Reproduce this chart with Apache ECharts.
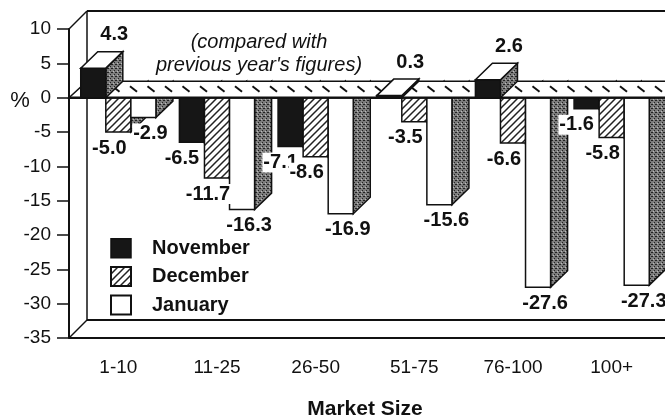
<!DOCTYPE html>
<html>
<head>
<meta charset="utf-8">
<script src="https://cdn.jsdelivr.net/npm/echarts@6/dist/echarts.min.js"></script>
<style>
  html, body { margin: 0; background: #fff; }
  #chart { width: 665px; height: 418px; }
</style>
</head>
<body>
<div id="chart"></div>
<script>
const categories = ['1-10', '11-25', '26-50', '51-75', '76-100', '100+']
const november = [4.3, -6.5, -7.1, 0.3, 2.6, -1.6]
const december = [-5.0, -11.7, -8.6, -3.5, -6.6, -5.8]
const january = [-2.9, -16.3, -16.9, -15.6, -27.6, -27.3]

const FONT = '"Liberation Sans", Arial, Helvetica, sans-serif'
const INK = '#111'
// depth of the 3d boxes and of the frame
const DX = 17
const DY = -16.5
const FDX = 18
const FDY = -18

function hatchPattern() {
  const c = document.createElement('canvas')
  c.width = 7
  c.height = 7
  const g = c.getContext('2d')
  g.fillStyle = '#fff'
  g.fillRect(0, 0, 7, 7)
  g.strokeStyle = '#222'
  g.lineWidth = 1.5
  g.beginPath()
  g.moveTo(-1, 8); g.lineTo(8, -1)
  g.moveTo(-1, 1); g.lineTo(1, -1)
  g.moveTo(6, 8); g.lineTo(8, 6)
  g.stroke()
  return { image: c, repeat: 'repeat' }
}

function stipplePattern() {
  const c = document.createElement('canvas')
  c.width = 4
  c.height = 4
  const g = c.getContext('2d')
  g.fillStyle = '#7c7c7c'
  g.fillRect(0, 0, 4, 4)
  g.fillStyle = '#222'
  g.fillRect(0, 0, 1, 1)
  g.fillRect(2, 2, 1, 1)
  g.fillRect(3, 0, 1, 1)
  g.fillStyle = '#bbb'
  g.fillRect(1, 3, 1, 1)
  return { image: c, repeat: 'repeat' }
}

const hatch = hatchPattern()
const stipple = stipplePattern()

function line(x1, y1, x2, y2, w, z2) {
  return {
    type: 'line',
    shape: { x1, y1, x2, y2 },
    style: { stroke: INK, lineWidth: w || 1.5 },
    z2: z2 || 0
  }
}

// back wall, floor and the hatched zero plane
function renderFrame(params, api) {
  const cs = params.coordSys
  const left = cs.x
  const top = cs.y
  const bottom = cs.y + cs.height
  const far = 700
  const y0 = api.coord([0, 0])[1]
  const children = [
    line(left, top, left + FDX, top + FDY),
    line(left + FDX, top + FDY, far, top + FDY, 2),
    line(left + FDX, top + FDY, left + FDX, bottom + FDY),
    line(left, bottom, left + FDX, bottom + FDY),
    line(left + FDX, bottom + FDY, far, bottom + FDY, 2),
    line(left, bottom, far, bottom, 2),
    {
      type: 'polygon',
      shape: { points: [[left, y0], [far, y0], [far, y0 + DY], [left + FDX, y0 + DY]] },
      style: { fill: '#fff', stroke: INK, lineWidth: 1.5 },
      z2: 5
    },
    line(left, y0, far, y0, 2.2, 5)
  ]
  for (let x = left + FDX + 8; x < far; x += 17.5) {
    children.push(line(x, y0 + DY + 5, x + 7, y0 + DY + 10.5, 2, 5))
  }
  return { type: 'group', children }
}

function barRenderer(k, frontFill, negLabelDx) {
  return function (params, api) {
    const i = api.value(0)
    const v = api.value(1)
    const band = api.size([1, 0])[0]
    const bw = band * 0.254
    const pt = api.coord([i, v])
    const base = api.coord([i, 0])
    const x0 = pt[0] - 1.5 * bw + k * bw
    const x1 = x0 + bw
    const pos = v >= 0
    const yTop = Math.min(pt[1], base[1])
    const yBot = Math.max(pt[1], base[1])
    const z2 = pos ? 6 : 1 + k
    const edge = { stroke: INK, lineWidth: 1.5 }
    const children = [
      {
        type: 'polygon',
        shape: { points: [[x1, yTop], [x1 + DX, yTop + DY], [x1 + DX, yBot + DY], [x1, yBot]] },
        style: Object.assign({ fill: stipple }, edge),
        z2
      },
      {
        type: 'rect',
        shape: { x: x0, y: yTop, width: bw, height: yBot - yTop },
        style: Object.assign({ fill: frontFill }, edge),
        z2
      }
    ]
    let lx, ly
    if (pos) {
      children.push({
        type: 'polygon',
        shape: { points: [[x0, yTop], [x1, yTop], [x1 + DX, yTop + DY], [x0 + DX, yTop + DY]] },
        style: Object.assign({ fill: '#fff' }, edge),
        z2
      })
      lx = x0 + bw / 2 + DX + 4
      ly = yTop + DY - 17
    } else {
      lx = x0 + bw / 2 + negLabelDx
      ly = yBot + 16
    }
    children.push({
      type: 'text',
      style: {
        text: v.toFixed(1),
        x: lx,
        y: ly,
        align: 'center',
        verticalAlign: 'middle',
        font: 'bold 20px ' + FONT,
        fill: INK,
        backgroundColor: '#fff',
        padding: [0, 1]
      },
      z2: 20
    })
    return { type: 'group', children }
  }
}

function toData(values) {
  return values.map((v, i) => [i, v])
}

const chart = echarts.init(document.getElementById('chart'))

chart.setOption({
  animation: false,
  backgroundColor: '#fff',
  title: {
    text: "(compared with\nprevious year's figures)",
    left: 254,
    top: 26,
    textAlign: 'center',
    textStyle: {
      fontFamily: FONT,
      fontStyle: 'italic',
      fontWeight: 'normal',
      fontSize: 20,
      lineHeight: 23,
      color: INK
    }
  },
  legend: {
    orient: 'vertical',
    left: 105,
    top: 233,
    icon: 'rect',
    itemWidth: 20,
    itemHeight: 19,
    itemGap: 7.5,
    selectedMode: false,
    data: [
      { name: 'November', itemStyle: { color: '#161616', borderColor: INK, borderWidth: 1.5 } },
      { name: 'December', itemStyle: { color: hatch, borderColor: INK, borderWidth: 2 } },
      { name: 'January', itemStyle: { color: '#fff', borderColor: INK, borderWidth: 2 } }
    ],
    textStyle: {
      fontFamily: FONT,
      fontWeight: 'bold',
      fontSize: 20,
      color: INK,
      padding: [0, 0, 0, 16]
    }
  },
  grid: {
    left: 69,
    right: 4,
    top: 29,
    bottom: 80,
    outerBoundsMode: 'none'
  },
  xAxis: {
    type: 'category',
    data: categories,
    axisLine: { lineStyle: { color: INK, width: 2 } },
    axisTick: { alignWithLabel: true, length: 10, lineStyle: { color: INK, width: 1.5 } },
    axisLabel: { margin: 20, fontSize: 19, color: INK, fontFamily: FONT },
    name: 'Market Size',
    nameLocation: 'middle',
    nameGap: 61,
    nameTextStyle: { fontFamily: FONT, fontWeight: 'bold', fontSize: 21, color: INK }
  },
  yAxis: {
    type: 'value',
    min: -35,
    max: 10,
    interval: 5,
    splitLine: { show: false },
    axisLine: { show: true, lineStyle: { color: INK, width: 2 } },
    axisTick: { show: true, length: 12, lineStyle: { color: INK, width: 1.5 } },
    axisLabel: {
      margin: 18,
      fontSize: 19,
      color: INK,
      fontFamily: FONT,
      formatter: v => (v === 0 ? '{p|%}  0' : String(v)),
      rich: { p: { fontSize: 22, fontFamily: FONT, color: INK, padding: [6, 0, 0, 0] } }
    }
  },
  series: [
    {
      type: 'custom',
      name: 'frame',
      silent: true,
      renderItem: renderFrame,
      data: [[0, 0]]
    },
    {
      type: 'custom',
      name: 'November',
      renderItem: barRenderer(0, '#161616', -10),
      encode: { x: 0, y: 1 },
      data: toData(november)
    },
    {
      type: 'custom',
      name: 'December',
      renderItem: barRenderer(1, hatch, -9),
      encode: { x: 0, y: 1 },
      data: toData(december)
    },
    {
      type: 'custom',
      name: 'January',
      renderItem: barRenderer(2, '#fff', 7),
      encode: { x: 0, y: 1 },
      data: toData(january)
    }
  ]
})
</script>
</body>
</html>
